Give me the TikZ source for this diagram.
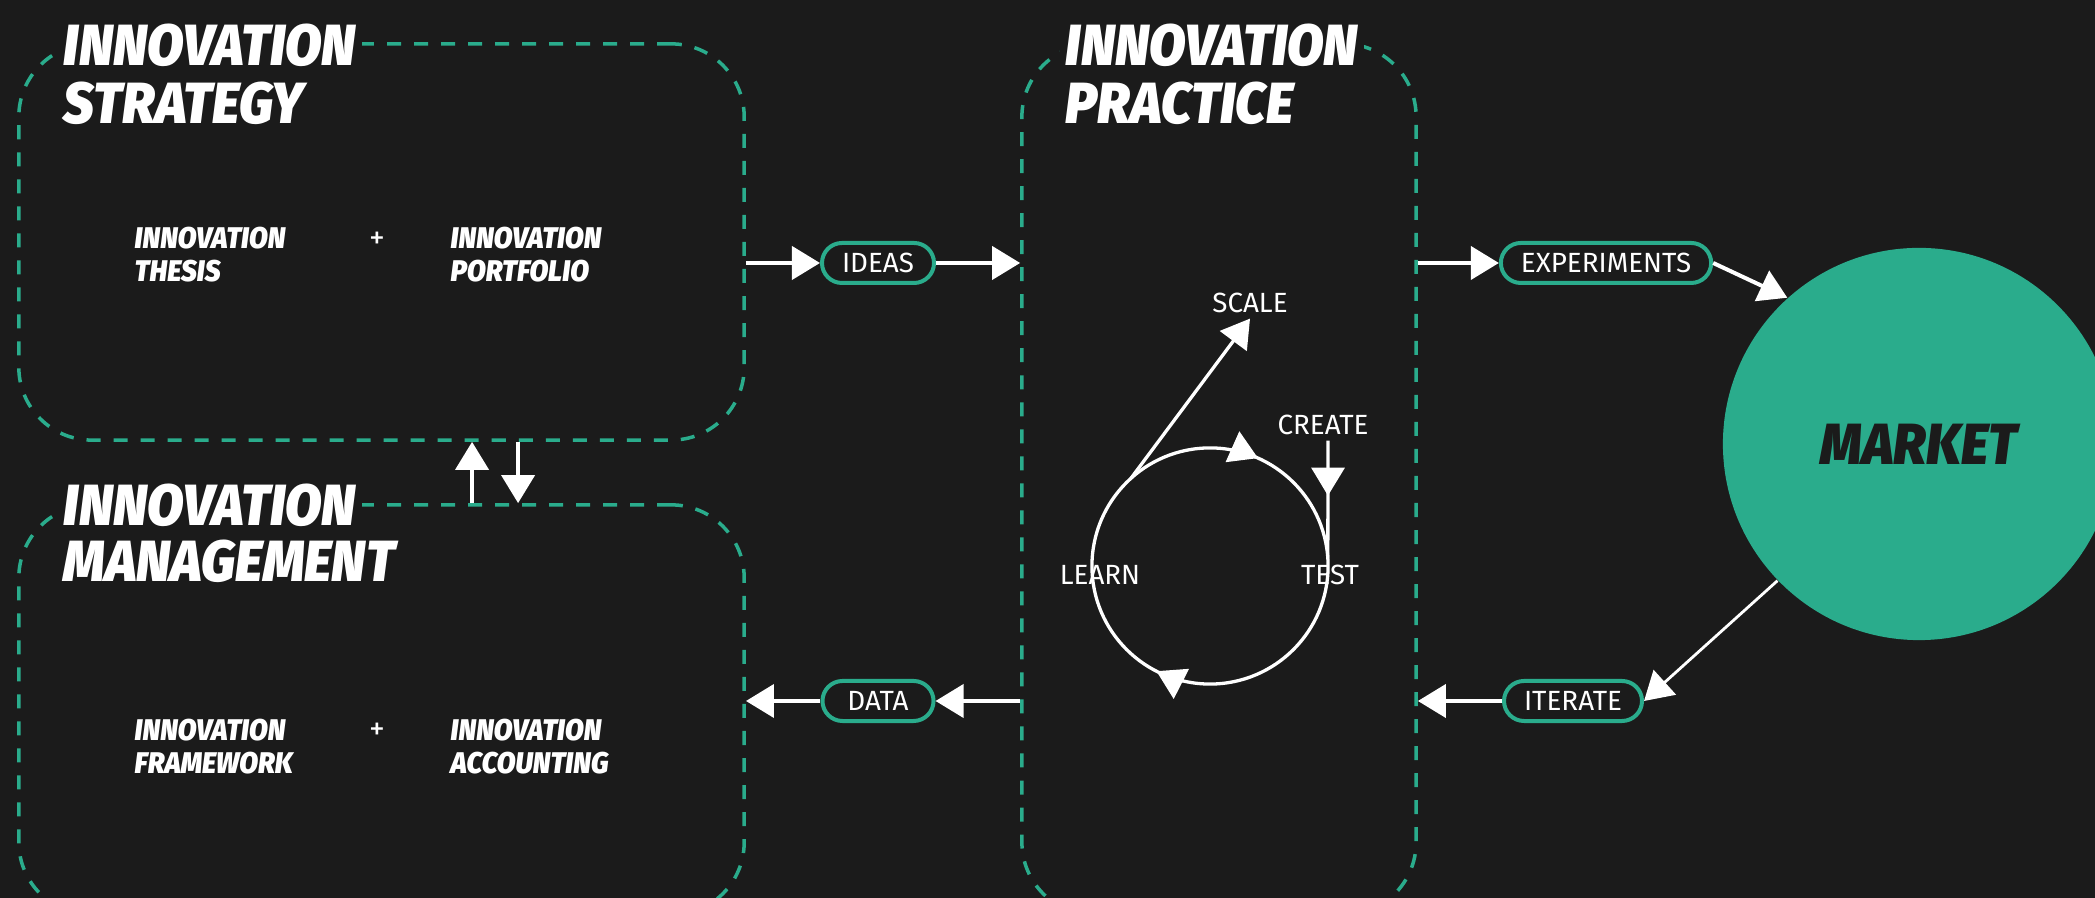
\documentclass[tikz,border=0pt]{standalone}
\usepackage{fontspec}
\setmainfont{Fira Sans}
\newfontfamily\headfont[FakeStretch=0.92,BoldItalicFont={Fira Sans Black Italic}]{Fira Sans}
\usetikzlibrary{arrows.meta,decorations.markings}
\definecolor{bg}{HTML}{1B1B1B}
\definecolor{jade}{HTML}{2AAC8C}
\tikzset{
  zone/.style={draw=jade, line width=0.035cm, dash pattern=on 0.14cm off 0.13cm, rounded corners=0.73cm},
  title/.style={anchor=west, fill=bg, inner sep=0.06cm, text=white, font=\headfont\bfseries\itshape\fontsize{16.5}{16.5}\selectfont},
  item/.style={anchor=west, inner sep=0pt, align=left, text=white, font=\headfont\bfseries\itshape\fontsize{8.5}{9.4}\selectfont},
  sign/.style={text=white, inner sep=0pt, font=\fontsize{9}{10}\selectfont},
  pill/.style={draw=jade, line width=0.04cm, rounded corners=0.2cm, minimum height=0.4cm, minimum width=1.11cm, inner xsep=0.2cm, inner ysep=0pt, text=white, font=\fontsize{7.9}{9}\selectfont},
  tag/.style={text=white, inner sep=0.05cm, font=\fontsize{7.9}{9}\selectfont},
  flow/.style={draw=white, line width=0.04cm, -{Triangle[length=0.28cm,width=0.33cm]}},
  ring/.style={draw=white, line width=0.033cm},
  spin/.style={ring, -{Triangle[length=0.28cm,width=0.33cm]}},
}
\begin{document}
\begin{tikzpicture}[x=0.01cm,y=0.01cm,line cap=butt,line join=round]
  \useasboundingbox (0,0) rectangle (2095,898);
  \fill[bg] (0,0) rectangle (2095,898);
  \clip (0,0) rectangle (2095,898);

  % the three dashed areas
  \node[zone, minimum width=7.25cm, minimum height=3.96cm] (strat) at (381.5,656) {};
  \node[zone, minimum width=7.25cm, minimum height=4.10cm] (mgmt) at (381.5,188) {};
  \node[zone, minimum width=3.94cm, minimum height=8.71cm] (prac) at (1219,418.5) {};

  \node[title] (strat1) at (57,853) {INNOVATION};
  \node[title] (strat2) at (57,795) {STRATEGY};
  \node[title] (mgmt1) at (57,393) {INNOVATION};
  \node[title] (mgmt2) at (57,337) {MANAGEMENT};
  \node[title] (prac1) at (1059,853) {INNOVATION};
  \node[title] (prac2) at (1059,795) {PRACTICE};

  \node[item] (thesis) at (134,643) {INNOVATION\\THESIS};
  \node[sign] (plus1) at (377,658) {+};
  \node[item] (portfolio) at (450,643) {INNOVATION\\PORTFOLIO};
  \node[item] (framework) at (134,151) {INNOVATION\\FRAMEWORK};
  \node[sign] (plus2) at (377,167) {+};
  \node[item] (accounting) at (450,151) {INNOVATION\\ACCOUNTING};

  \node[pill] (ideas) at (878,635) {IDEAS};
  \node[pill] (experiments) at (1606,635) {EXPERIMENTS};
  \node[pill] (data) at (878,197) {DATA};
  \node[pill] (iterate) at (1573,197) {ITERATE};

  \node[circle, fill=jade, minimum size=3.92cm, inner sep=0pt, text=bg,
        font=\headfont\bfseries\itshape\fontsize{16.5}{16.5}\selectfont] (market) at (1919,454) {MARKET};

  % build loop
  \node[circle, ring, minimum size=2.36cm, inner sep=0pt, outer sep=0pt] (loop) at (1210,332) {};
  \node[tag] (scale) at (1250,595) {SCALE};
  \node[tag] (create) at (1323,473) {CREATE};
  \node[tag] (learn) at (1100,323) {LEARN};
  \node[tag] (test) at (1330,323) {TEST};

  \draw[spin] (loop.80) arc[start angle=80, end angle=66, radius=1.18cm];
  \draw[spin] (loop.257) arc[start angle=257, end angle=243, radius=1.18cm];
  \draw[spin] (loop.132) -- (scale.south);
  \draw[ring, postaction={decorate}, decoration={markings,
        mark=at position 0.47 with {\arrow{Triangle[length=0.28cm,width=0.33cm]}}}]
    (loop.east |- create.south) -- (loop.4);

  \draw[flow] (strat.east |- ideas.west) -- (ideas.west);
  \draw[flow] (ideas.east) -- (prac.west |- ideas.east);
  \draw[flow] (prac.east |- experiments.west) -- (experiments.west);
  \draw[flow] (experiments.east) -- (market.132);
  \draw[flow, line width=0.028cm] (market.224) -- (iterate.east);
  \draw[flow] (iterate.west) -- (prac.east |- iterate.west);
  \draw[flow] (prac.west |- data.east) -- (data.east);
  \draw[flow] (data.west) -- (mgmt.east |- data.west);

  \draw[flow] ([xshift=0.905cm]mgmt.north) -- ([xshift=0.905cm]strat.south);
  \draw[flow] ([xshift=1.365cm]strat.south) -- ([xshift=1.365cm]mgmt.north);
\end{tikzpicture}
\end{document}
